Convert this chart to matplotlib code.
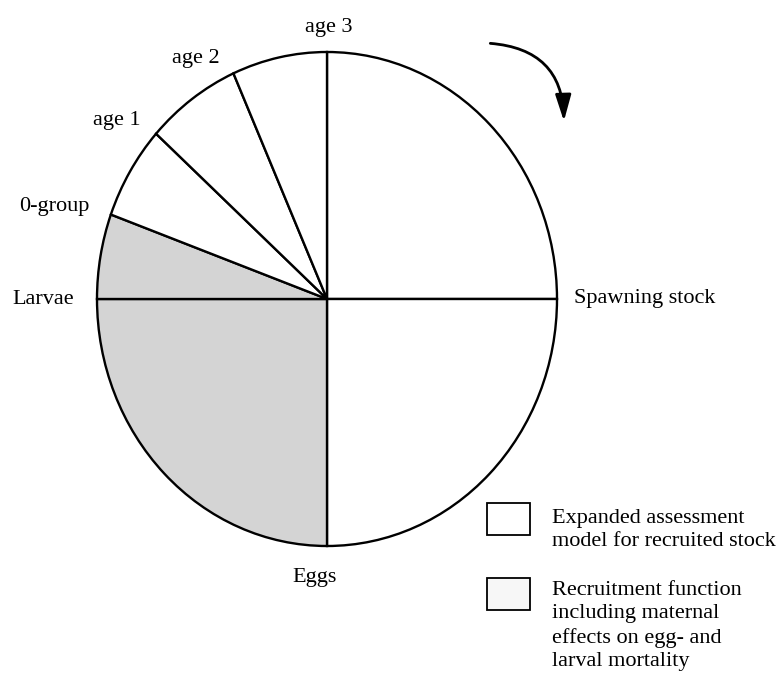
import matplotlib
matplotlib.use("Agg")
import matplotlib.pyplot as plt
import numpy as np
from matplotlib.patches import Rectangle
from matplotlib.transforms import offset_copy

# Data: wedge sizes in degrees, clockwise starting at 12 o'clock
wedges = ["Spawning stock - Eggs (upper right)", "Eggs (lower right)", "Eggs - Larvae",
          "Larvae - 0-group", "0-group - age 1", "age 1 - age 2", "age 2 - age 3"]
sizes = [90, 90, 90, 20, 22, 24, 24]
shaded = [False, False, True, True, False, False, False]
# labels sit on the wedge boundaries, clockwise from 12 o'clock
boundary_labels = ["age 3", "Spawning stock", "Eggs", "Larvae", "0-group", "age 1", "age 2"]
legend_labels = ["Expanded assessment\nmodel for recruited stock",
                 "Recruitment function\nincluding maternal\neffects on egg- and\nlarval mortality"]

plt.rcParams['font.family'] = ['Liberation Serif', 'DejaVu Serif']

W, H = 782, 676
fig = plt.figure(figsize=(W / 100, H / 100), dpi=100)
cx, cy, rx, ry = 327, 299, 230, 247
ax = fig.add_axes([(cx - rx) / W, (H - cy - ry) / H, 2 * rx / W, 2 * ry / H])
ax.axis('off')

colors = ['#d4d4d4' if s else 'white' for s in shaded]
patches, _ = ax.pie(sizes, colors=colors, startangle=90, counterclock=False, radius=1,
                    wedgeprops=dict(edgecolor='black', linewidth=1.7), frame=False)
ax.set_xlim(-1, 1)
ax.set_ylim(-1, 1)
ax.set_aspect('auto')

# boundary angles
angles = 90 - np.concatenate([[0], np.cumsum(sizes)[:-1]])
fs = 16
# (radius, ha, va, dx px, dy px)
style = {
    "age 3": (1.06, 'center', 'bottom', 2, 0),
    "Spawning stock": (1.075, 'left', 'center', 0, 0),
    "Eggs": (1.09, 'center', 'top', -12, 0),
    "Larvae": (1.1, 'right', 'center', 0, 0),
    "0-group": (1.1, 'right', 'center', 0, 0),
    "age 1": (1.1, 'right', 'center', 2, -3),
    "age 2": (1.09, 'right', 'center', -5, -5),
}
for lab, a in zip(boundary_labels, angles):
    r, ha, va, dx, dy = style[lab]
    t = np.deg2rad(a)
    tr = offset_copy(ax.transData, fig=fig, x=dx, y=dy, units='dots')
    ax.text(r * np.cos(t), r * np.sin(t), lab, ha=ha, va=va, fontsize=fs,
            clip_on=False, transform=tr)

# curved arrow showing direction
ax.annotate("", xy=(1.03, 0.72), xytext=(0.71, 1.035),
            arrowprops=dict(arrowstyle='-|>,head_length=1.0,head_width=0.3', color='black',
                            lw=2.0, mutation_scale=16,
                            connectionstyle='arc3,rad=-0.45',
                            shrinkA=0, shrinkB=0),
            annotation_clip=False)

# legend drawn manually
leg_colors = ['white', '#f7f7f7']
box_tops = [503, 578]
text_tops = [509, 581]
for lab, col, bt, tt in zip(legend_labels, leg_colors, box_tops, text_tops):
    fig.add_artist(Rectangle((487 / W, (H - bt - 32) / H), 43 / W, 32 / H,
                             transform=fig.transFigure, facecolor=col,
                             edgecolor='black', linewidth=1.3))
    fig.text(552 / W, (H - tt) / H, lab, ha='left', va='top', fontsize=fs,
             linespacing=1.3)

fig.savefig("out.png", dpi=100)
